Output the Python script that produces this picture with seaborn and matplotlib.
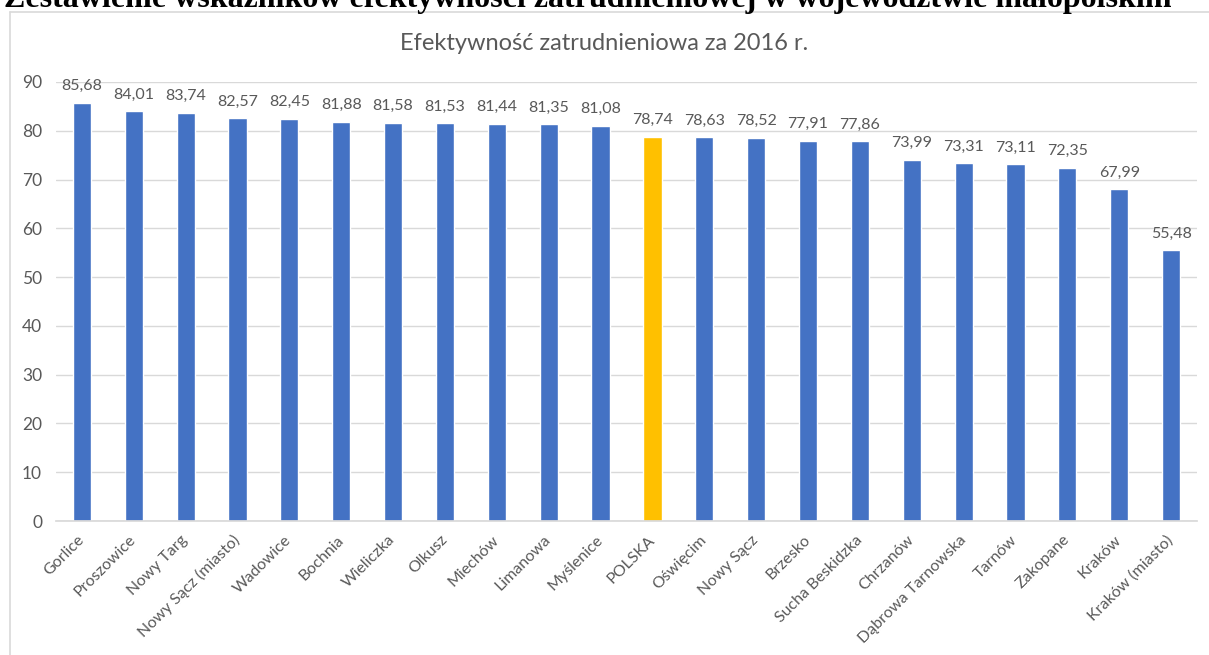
import matplotlib
matplotlib.use("Agg")
import matplotlib.pyplot as plt
import seaborn as sns
from matplotlib.lines import Line2D

categories = ["Gorlice", "Proszowice", "Nowy Targ", "Nowy Sącz (miasto)", "Wadowice",
              "Bochnia", "Wieliczka", "Olkusz", "Miechów", "Limanowa", "Myślenice",
              "POLSKA", "Oświęcim", "Nowy Sącz", "Brzesko", "Sucha Beskidzka",
              "Chrzanów", "Dąbrowa Tarnowska", "Tarnów", "Zakopane", "Kraków",
              "Kraków (miasto)"]
values = [85.68, 84.01, 83.74, 82.57, 82.45, 81.88, 81.58, 81.53, 81.44, 81.35,
          81.08, 78.74, 78.63, 78.52, 77.91, 77.86, 73.99, 73.31, 73.11, 72.35,
          67.99, 55.48]
highlight = "POLSKA"
yticks = [0, 10, 20, 30, 40, 50, 60, 70, 80, 90]
title = "Efektywność zatrudnieniowa za 2016 r."
heading = "Zestawienie wskaźników efektywności zatrudnieniowej w województwie małopolskim"

sns.set_theme(style="white")
plt.rcParams['font.family'] = ['Lato', 'DejaVu Sans']

gray = "#595959"
blue = "#4472C4"
gold = "#FFC000"
palette = {c: (gold if c == highlight else blue) for c in categories}

fig = plt.figure(figsize=(12.09, 6.55), dpi=100)
ax = fig.add_axes([56/1209, 1-521/655, (1197-56)/1209, (521-82)/655])

sns.barplot(x=categories, y=values, hue=categories, palette=palette,
            width=0.35, legend=False, ax=ax, saturation=1)

ax.set_ylim(0, 90)
ax.set_xlim(-0.5, len(categories) - 0.5)
ax.set_yticks(yticks)
ax.yaxis.grid(True, color="#D9D9D9", linewidth=1)
ax.set_axisbelow(True)
for s in ["top", "right", "left"]:
    ax.spines[s].set_visible(False)
ax.spines["bottom"].set_color("#D9D9D9")
ax.tick_params(axis="both", length=0, colors=gray)
ax.tick_params(axis="y", pad=10, labelsize=12.5)
ax.tick_params(axis="x", pad=12, labelsize=11.5)
ax.set_xlabel("")
ax.set_ylabel("")
ax.set_xticks(range(len(categories)))
ax.set_xticklabels(categories, rotation=45, ha="right", va="center", rotation_mode="anchor")
for container in ax.containers:
    ax.bar_label(container, labels=[f"{v:.2f}".replace(".", ",") for v in container.datavalues],
                 padding=7, color=gray, fontsize=11.5)

fig.text(0.5, 1-44/655, title, ha="center", va="center", color=gray, fontsize=17)

# chart frame
fig.add_artist(Line2D([10/1209, 10/1209], [0, 1-12/655], color="#D9D9D9", lw=1.2,
                      transform=fig.transFigure))
fig.add_artist(Line2D([10/1209, 1], [1-12/655, 1-12/655], color="#D9D9D9", lw=1.2,
                      transform=fig.transFigure))

fig.text(4/1209, 1-7/655, heading, ha="left", va="baseline", fontsize=23,
         fontweight="bold", family=["Liberation Serif", "DejaVu Serif"], color="black")

fig.savefig("out.png", dpi=100)
